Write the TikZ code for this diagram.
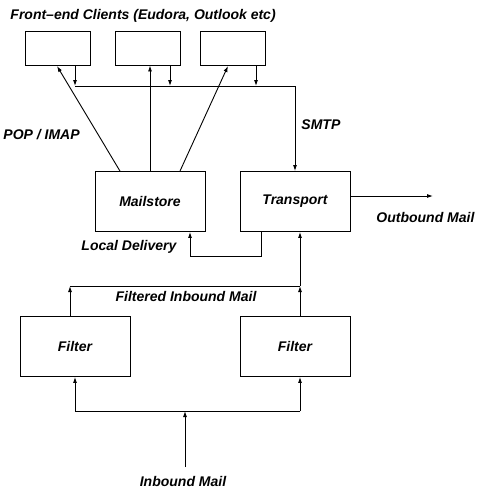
\documentclass[tikz,border=0pt]{standalone}
\usepackage{fontspec}
\setmainfont{Liberation Sans}
\usetikzlibrary{arrows.meta}
\begin{document}
\begin{tikzpicture}[
                x = 1pt, y = -1pt,
                line width = 0.9pt,
                box/.style = {draw, inner sep = 0mm, font = \fontsize{14}{16}\selectfont\bfseries\itshape},
                client/.style = {box, minimum width = 65pt, minimum height = 34pt},
                unit/.style = {box, minimum width = 110pt, minimum height = 60pt},
                lbl/.style = {inner sep = 0mm, font = \fontsize{14}{16}\selectfont\bfseries\itshape},
                arr/.style = {draw, -{Latex[length = 6pt, width = 4pt]}},
                ln/.style = {draw},
            ]
            \useasboundingbox (0,0) rectangle (481,496);

            \node (TITLE) [lbl, anchor = west] at (10,16) {Front--end Clients (Eudora, Outlook etc)};
            \node (C1) [client] at (57.5,48) {};
            \node (C2) [client] at (147.5,48) {};
            \node (C3) [client] at (233,48) {};

            \node (MS) [unit] at (150,201.5) {Mailstore};
            \node (TR) [unit] at (295,201.5) {Transport};
            \node (F1) [unit] at (75,346.5) {Filter};
            \node (F2) [unit] at (295,346.5) {Filter};

            \node (POP) [lbl, anchor = west] at (3,135) {POP / IMAP};
            \node (SMTP) [lbl, anchor = west] at (301,125) {SMTP};
            \node (OUT) [lbl, anchor = west] at (376,217) {Outbound Mail};
            \node (LOC) [lbl, anchor = west] at (81,247) {Local Delivery};
            \node (FIM) [lbl] at (186,296) {Filtered Inbound Mail};
            \node (INM) [lbl] at (183,481) {Inbound Mail};

            \coordinate (B1) at (75,86);
            \coordinate (B2) at (170,86);
            \coordinate (B3) at (256,86);
            \coordinate (B4) at (295,86);
            \coordinate (OE) at (433,196);
            \coordinate (LD1) at (261,256);
            \coordinate (LD2) at (190,256);
            \coordinate (FL) at (70,286);
            \coordinate (FR) at (300,286);
            \coordinate (IN) at (185,467);
            \coordinate (IJ) at (185,411);
            \coordinate (IL) at (75,411);
            \coordinate (IR) at (300,411);

            % SMTP bus
            \path[arr] (C1.south -| B1) -- (B1);
            \path[arr] (C2.south -| B2) -- (B2);
            \path[arr] (C3.south -| B3) -- (B3);
            \path[ln] (B1) -- (B4);
            \path[arr] (B4) -- (TR.north -| B4);

            % POP / IMAP
            \path[arr] (MS.north -| 120,0) -- (57,66);
            \path[arr] (MS.north) -- (C2.south -| MS.north);
            \path[arr] (MS.north -| 180,0) -- (228,66);

            \path[arr] (TR.east |- OE) -- (OE);
            \path[arr] (TR.south -| LD1) -- (LD1) -- (LD2) -- (MS.south -| LD2);

            % filtered mail
            \path[arr] (F1.north -| FL) -- (FL);
            \path[arr] (F2.north -| FR) -- (FR);
            \path[ln] (FL) -- (FR);
            \path[arr] (FR) -- (TR.south -| FR);

            % inbound mail
            \path[arr] (IN) -- (IJ);
            \path[ln] (IL) -- (IR);
            \path[arr] (IL) -- (F1.south -| IL);
            \path[arr] (IR) -- (F2.south -| IR);
        \end{tikzpicture}
\end{document}
